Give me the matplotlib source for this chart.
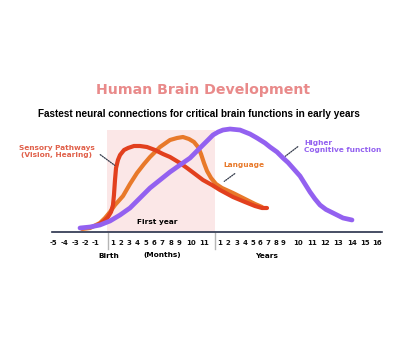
import numpy as np
import matplotlib
matplotlib.use('Agg')
import matplotlib.pyplot as plt

# age in months (negative = before birth) and relative development level
prebirth_labels = ['-5', '-4', '-3', '-2', '-1']
prebirth_ages = [-5, -4, -3, -2, -1]
month_labels = [str(m) for m in range(1, 12)]
month_ages = list(range(1, 12))
year_labels = [str(y) for y in range(1, 17)]
year_ages = [12 * y for y in range(1, 17)]

sensory_age = [-0.77, -0.31, 0.0, 0.6, 1.0, 1.12, 1.25, 1.38, 1.62, 1.88, 2.38, 2.88, 3.62,
               4.33, 5.12, 6.12, 7.11, 7.89, 9.08, 9.67, 10.31, 10.92, 11.5, 12.0,
               30.7, 48.0, 63.4, 75.0, 82.5]
sensory_lvl = [7, 11, 15, 20, 27, 37, 52, 64, 72, 77, 82, 84, 86,
               86, 85, 82, 78, 75, 69, 64, 58, 52, 47, 42,
               35, 30, 26, 24, 24]

language_age = [-2.3, -1.5, -0.62, -0.23, 0.4, 1.25, 2.25, 3.12, 4.0, 4.78, 5.5, 6.75,
                7.89, 8.75, 9.33, 9.83, 10.23, 10.54, 10.77, 11.0, 11.19, 11.44, 11.75,
                15.0, 30.7, 48.0, 63.4, 75.0]
language_lvl = [3, 4, 9, 14, 20, 27, 36, 48, 59, 68, 75, 85,
                92, 94, 95, 93, 90, 85, 78, 69, 61, 54, 48,
                44, 39, 33, 28, 25]

cognitive_age = [-2.5, -1.5, -0.62, 0.4, 1.88, 3.12, 4.33, 5.5, 6.75, 7.89, 9.08, 9.92,
                 10.46, 10.92, 11.25, 11.56, 11.88, 16.5, 26.7, 40.5, 55.5, 66.9, 79.5,
                 87.0, 97.7, 108.0, 112.0, 115.2, 121.7, 126.0, 130.3, 134.8, 139.4,
                 144.9, 151.4, 160.3, 168.0]
cognitive_lvl = [4, 5, 7, 11, 17, 24, 34, 44, 52, 60, 67, 74,
                 81, 87, 92, 97, 100, 102, 103, 102, 98, 94, 89,
                 85, 80, 74, 69.5, 65, 56, 48, 40, 33, 27,
                 22.5, 19, 14, 12]

# timeline positions: the labels are set like running text, so spacing is uneven
knot_age = np.array([-13] + prebirth_ages + [0] + month_ages + year_ages + [252])
knot_pos = np.array([-43, 53, 65, 75, 85, 95, 108,
                     113, 121, 129, 137, 146, 154, 162, 171, 179, 191, 204,
                     220, 228, 237, 245, 253, 260, 268, 276, 283, 298, 312, 325, 338,
                     352, 365, 377, 439])

def fwd(a):
    return np.interp(a, knot_age, knot_pos)

def inv(p):
    return np.interp(p, knot_pos, knot_age)

c_sens = '#e2401e'
c_lang = '#e8792a'
c_cog = '#9361f0'
c_title = '#e98a8a'

fig = plt.figure(figsize=(4, 3.4), dpi=100)
ax = fig.add_axes([0, 0, 1, 1])
ax.set_xscale('function', functions=(fwd, inv))
ax.set_xlim(inv(0), inv(400))
ax.set_ylim(-108, 232)
ax.axis('off')

fs = 5.3
bold = dict(fontweight='bold', family='DejaVu Sans')

# first year shading
ax.fill_between([-0.08, 11.69], 0, 102, color='#fbe7e7', lw=0, zorder=0)
ax.text(6.38, 10, 'First year', ha='center', va='center', fontsize=fs, color='black', **bold)

# curves
ax.plot(language_age, language_lvl, color=c_lang, lw=3, solid_capstyle='round',
        solid_joinstyle='round', zorder=2)
ax.plot(sensory_age, sensory_lvl, color=c_sens, lw=3, solid_capstyle='round',
        solid_joinstyle='round', zorder=3)
ax.plot(cognitive_age, cognitive_lvl, color=c_cog, lw=3.4, solid_capstyle='round',
        solid_joinstyle='round', zorder=4)

# timeline
ax.plot([-5.08, 196.8], [0, 0], color='#27304a', lw=1.2, zorder=5)
for a in [0, 11.69]:
    ax.plot([a, a], [-1, -17], color='#b5b5b5', lw=1)
for lab, a in zip(prebirth_labels + month_labels + year_labels,
                  prebirth_ages + month_ages + year_ages):
    ax.text(a, -11, lab, ha='center', va='center', fontsize=5.0, color='#111111', **bold)
ax.text(0.2, -23.5, 'Birth', ha='center', va='center', fontsize=fs, **bold)
ax.text(7.0, -23.5, '(Months)', ha='center', va='center', fontsize=fs, **bold)
ax.text(81, -23.5, 'Years', ha='center', va='center', fontsize=fs, **bold)

# labels and leaders
lead = dict(arrowstyle='-', linestyle=(0, (1, 1)), color='#333a4a', lw=0.9)
ax.annotate('', xy=(1.5, 65), xytext=(-0.77, 79), arrowprops=lead)
ax.text(-4.67, 80.5, 'Sensory Pathways\n(Vision, Hearing)', ha='center', va='center',
        fontsize=fs, color='#e0604a', linespacing=1.25, **bold)
ax.annotate('', xy=(15, 49), xytext=(36, 60), arrowprops=lead)
ax.text(16.5, 67, 'Language', ha='left', va='center', fontsize=fs, color=c_lang, **bold)
ax.annotate('', xy=(108, 74), xytext=(121.7, 87), arrowprops=lead)
ax.text(125.1, 85.5, 'Higher\nCognitive function', ha='left', va='center',
        fontsize=fs, color=c_cog, linespacing=1.25, **bold)

fig.text(0.5075, 1 - 90 / 340, 'Human Brain Development', ha='center', va='center',
         fontsize=10.2, color=c_title, **bold)
fig.text(0.4975, 1 - 114 / 340, 'Fastest neural connections for critical brain functions in early years',
         ha='center', va='center', fontsize=7.2, fontweight='bold', family='Liberation Sans',
         color='black')

fig.savefig('out.png', dpi=100)
